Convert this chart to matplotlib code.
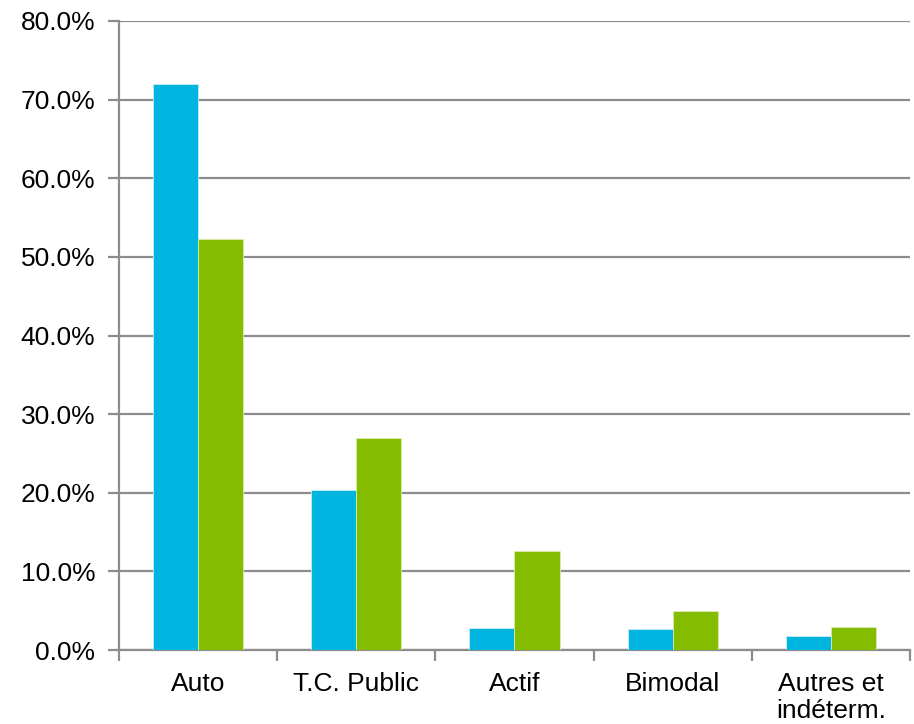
import matplotlib
matplotlib.use("Agg")
import matplotlib.pyplot as plt
import numpy as np
from matplotlib.ticker import FuncFormatter, MultipleLocator

categories = ["Auto", "T.C. Public", "Actif", "Bimodal", "Autres et\nindéterm."]
series_a = [72.0, 20.4, 2.8, 2.7, 1.8]
series_b = [52.3, 27.0, 12.6, 4.9, 2.9]

plt.rcParams["font.family"] = ["Liberation Sans", "DejaVu Sans"]

fig = plt.figure(figsize=(9.14, 7.24), dpi=100)
ax = fig.add_axes([0.1302, 0.1022, 0.8654, 0.8688])

x = np.arange(len(categories))
w = 0.285
ax.bar(x - w / 2, series_a, width=w, color="#00B4E0", edgecolor="#c8eef8", linewidth=0.6, zorder=3)
ax.bar(x + w / 2, series_b, width=w, color="#84BD00", edgecolor="#d8ecb0", linewidth=0.6, zorder=3)

ax.set_xlim(-0.5, len(categories) - 0.5)
ax.set_ylim(0, 80)
ax.yaxis.set_major_locator(MultipleLocator(10))
ax.yaxis.set_major_formatter(FuncFormatter(lambda v, p: f"{v:.1f}%"))
ax.grid(axis="y", color="#8c8c8c", linewidth=1.6, zorder=0)

gray = "#8c8c8c"
for side in ["top", "right"]:
    ax.spines[side].set_visible(False)
for side in ["left", "bottom"]:
    ax.spines[side].set_color(gray)
    ax.spines[side].set_linewidth(1.6)

ax.set_xticks(x)
ax.set_xticklabels(categories, fontsize=19, linespacing=1.15, va="top")
ax.set_xticks(np.arange(-0.5, len(categories)), minor=True)
ax.tick_params(axis="x", which="major", length=0, pad=16)
ax.tick_params(axis="x", which="minor", length=8, width=1.6, color=gray, direction="out")
ax.tick_params(axis="y", length=8, width=1.6, color=gray, labelsize=19, pad=9)

fig.savefig("out.png", dpi=100)
